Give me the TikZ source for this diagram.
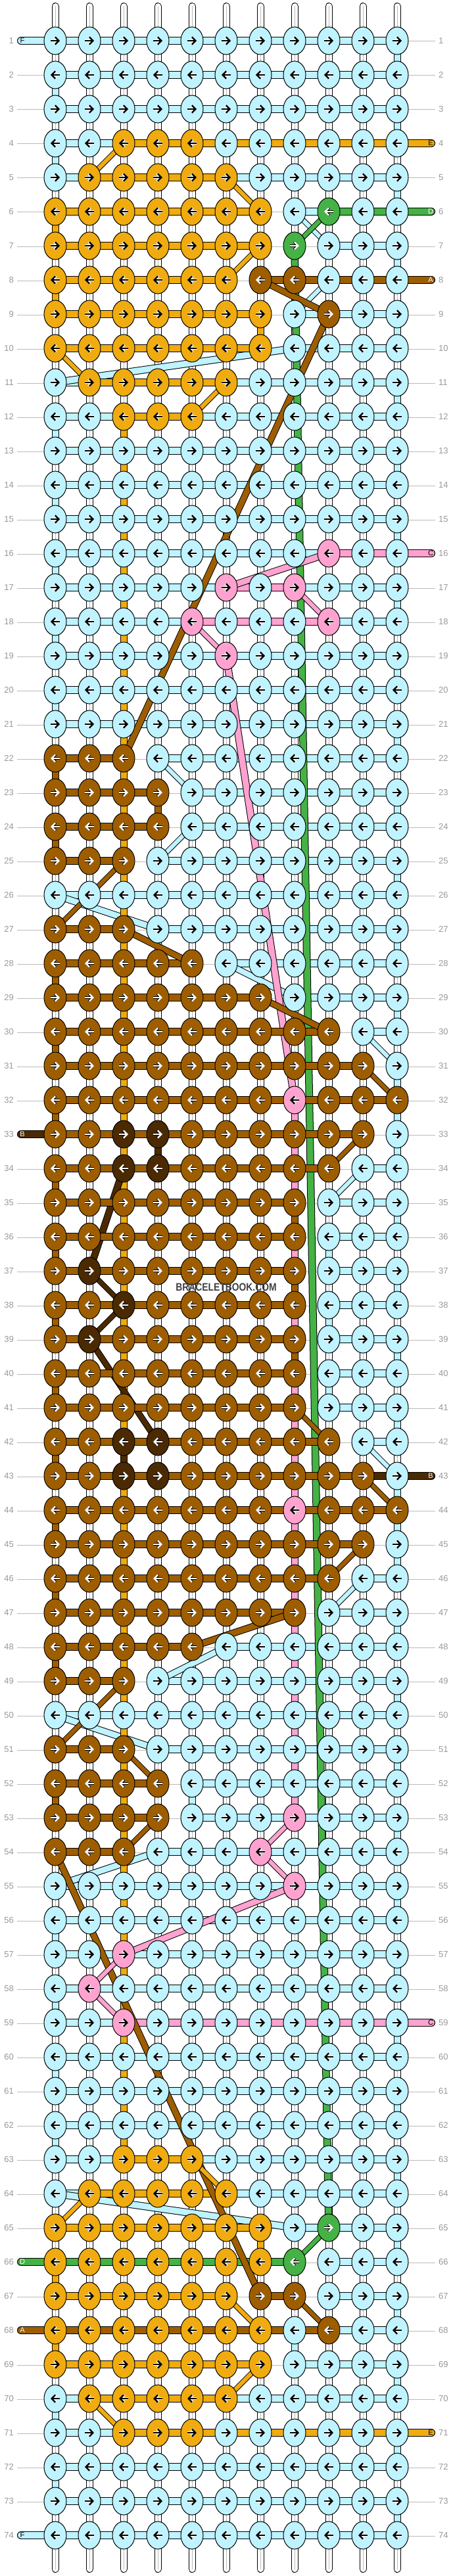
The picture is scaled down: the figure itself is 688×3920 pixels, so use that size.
\documentclass[tikz,border=0pt]{standalone}
\usepackage{fontspec}
\setmainfont{Liberation Sans}
\usetikzlibrary{shapes.geometric}
\usetikzlibrary{arrows.meta}

\definecolor{stb}{HTML}{BEF3FF}
\definecolor{ste}{HTML}{EFAB0F}
\definecolor{stg}{HTML}{45B245}
\definecolor{stp}{HTML}{FFA2D0}
\definecolor{std}{HTML}{4B2A01}
\definecolor{sta}{HTML}{9E5E00}
\definecolor{numgray}{HTML}{999999}
\definecolor{linegray}{HTML}{BBBBBB}

\pgfdeclarelayer{guide}
\pgfdeclarelayer{warp}
\pgfdeclarelayer{segb}
\pgfdeclarelayer{diagb}
\pgfdeclarelayer{gaps}
\pgfdeclarelayer{long}
\pgfdeclarelayer{segc}
\pgfdeclarelayer{diagc}
\pgfsetlayers{guide,warp,segb,diagb,gaps,long,segc,diagc,main}

\tikzset{
  >={Straight Barb[length=5.5pt,width=11.5pt]},
  knot/.style={ellipse,draw=black,line width=1pt,inner sep=0pt,minimum width=34pt,minimum height=42pt},
  knotb/.style={knot,fill=stb}, knote/.style={knot,fill=ste}, knotg/.style={knot,fill=stg},
  knotp/.style={knot,fill=stp}, knotd/.style={knot,fill=std}, knota/.style={knot,fill=sta},
  blackarr/.style={black,line width=2.4pt,preaction={draw=white,line width=3.8pt}},
  whitearr/.style={white,line width=2.4pt,preaction={draw=black,line width=3.4pt}},
  arrb/.style={blackarr}, arre/.style={blackarr}, arrp/.style={blackarr},
  arrg/.style={whitearr}, arrd/.style={whitearr}, arra/.style={whitearr},
  dir1/.style={->}, dir0/.style={<-},
  strand/.style={draw=black,line width=1pt,double distance=#1},
  strand/.default=10pt,
  segb/.style={strand,double=stb}, sege/.style={strand,double=ste}, segg/.style={strand,double=stg},
  segp/.style={strand,double=stp}, segd/.style={strand,double=std}, sega/.style={strand,double=sta},
  segn/.style={draw=none},
  % first pass draws only the blue links, second pass all the others
  lowb/.style={segb}, lowe/.style={draw=none}, lowg/.style={draw=none},
  lowp/.style={draw=none}, lowd/.style={draw=none}, lowa/.style={draw=none}, lown/.style={draw=none},
  highb/.style={draw=none}, highe/.style={sege}, highg/.style={segg},
  highp/.style={segp}, highd/.style={segd}, higha/.style={sega}, highn/.style={draw=none},
  gapline/.style={strand=9pt},
  warp/.style={strand=9pt,double=white,line cap=round},
  warpmid/.style={linegray,line width=1pt},
  guide/.style={linegray,line width=1pt},
  num/.style={numgray,inner sep=0pt,font=\fontsize{13}{13}\selectfont},
  tailtext/.style={inner sep=0pt,font=\fontsize{11}{11}\selectfont},
}

% one slanted strand behind the knots, thinner the nearer it is to 45 degrees
\newcommand{\slant}[5]{%
  \pgfmathsetmacro{\dxx}{abs(#2-#4)}
  \pgfmathsetmacro{\dyy}{abs(#3-#5)}
  \pgfmathsetmacro{\wid}{11.5*max(\dxx,\dyy)/veclen(\dxx,\dyy)-2}
  \draw [strand=\wid pt,double=st#1] (n-#3-#2.center) to (n-#5-#4.center);
}

% rows: knots / links between them
\newcommand{\rowtable}{%
    1/{b,b,b,b,b,b,b,b,b,b,b}/{b,b,b,b,b,b,b,b,b,b},
    2/{b,b,b,b,b,b,b,b,b,b,b}/{b,b,b,b,b,b,b,b,b,b},
    3/{b,b,b,b,b,b,b,b,b,b,b}/{b,b,b,b,b,b,b,b,b,b},
    4/{b,b,e,e,e,b,b,b,b,b,b}/{b,b,e,e,e,e,e,e,e,e},
    5/{b,e,e,e,e,e,b,b,b,b,b}/{b,e,e,e,e,b,b,b,b,b},
    6/{e,e,e,e,e,e,e,b,g,b,b}/{e,e,e,e,e,e,n,b,g,g},
    7/{e,e,e,e,e,e,e,g,b,b,b}/{e,e,e,e,e,e,n,n,b,b},
    8/{e,e,e,e,e,e,a,a,b,b,b}/{e,e,e,e,e,n,a,a,a,a},
    9/{e,e,e,e,e,e,e,b,a,b,b}/{e,e,e,e,e,e,n,b,b,b},
    10/{e,e,e,e,e,e,e,b,b,b,b}/{e,e,e,e,e,e,n,b,b,b},
    11/{b,e,e,e,e,e,b,b,b,b,b}/{b,e,e,e,e,b,b,b,b,b},
    12/{b,b,e,e,e,b,b,b,b,b,b}/{b,b,e,e,b,b,b,b,b,b},
    13/{b,b,b,b,b,b,b,b,b,b,b}/{b,b,b,b,b,b,b,b,b,b},
    14/{b,b,b,b,b,b,b,b,b,b,b}/{b,b,b,b,b,b,b,b,b,b},
    15/{b,b,b,b,b,b,b,b,b,b,b}/{b,b,b,b,b,b,b,b,b,b},
    16/{b,b,b,b,b,b,b,b,p,b,b}/{b,b,b,b,b,b,b,b,p,p},
    17/{b,b,b,b,b,p,b,p,b,b,b}/{b,b,b,b,b,p,p,b,b,b},
    18/{b,b,b,b,p,b,b,b,p,b,b}/{b,b,b,b,p,p,p,p,b,b},
    19/{b,b,b,b,b,p,b,b,b,b,b}/{b,b,b,b,b,b,b,b,b,b},
    20/{b,b,b,b,b,b,b,b,b,b,b}/{b,b,b,b,b,b,b,b,b,b},
    21/{b,b,b,b,b,b,b,b,b,b,b}/{b,b,b,b,b,b,b,b,b,b},
    22/{a,a,a,b,b,b,b,b,b,b,b}/{a,a,n,b,b,b,b,b,b,b},
    23/{a,a,a,a,b,b,b,b,b,b,b}/{a,a,a,n,b,b,b,b,b,b},
    24/{a,a,a,a,b,b,b,b,b,b,b}/{a,a,a,n,b,b,b,b,b,b},
    25/{a,a,a,b,b,b,b,b,b,b,b}/{a,a,n,b,b,b,b,b,b,b},
    26/{b,b,b,b,b,b,b,b,b,b,b}/{b,b,b,b,b,b,b,b,b,b},
    27/{a,a,a,b,b,b,b,b,b,b,b}/{a,a,n,b,b,b,b,b,b,b},
    28/{a,a,a,a,a,b,b,b,b,b,b}/{a,a,a,a,n,b,b,b,b,b},
    29/{a,a,a,a,a,a,a,b,b,b,b}/{a,a,a,a,a,a,n,b,b,b},
    30/{a,a,a,a,a,a,a,a,a,b,b}/{a,a,a,a,a,a,a,a,n,b},
    31/{a,a,a,a,a,a,a,a,a,a,b}/{a,a,a,a,a,a,a,a,a,n},
    32/{a,a,a,a,a,a,a,p,a,a,a}/{a,a,a,a,a,a,a,a,a,a},
    33/{a,a,d,d,a,a,a,a,a,a,b}/{a,a,a,a,a,a,a,a,a,n},
    34/{a,a,d,d,a,a,a,a,a,b,b}/{a,a,a,a,a,a,a,a,n,b},
    35/{a,a,a,a,a,a,a,a,b,b,b}/{a,a,a,a,a,a,a,n,b,b},
    36/{a,a,a,a,a,a,a,a,b,b,b}/{a,a,a,a,a,a,a,n,b,b},
    37/{a,d,a,a,a,a,a,a,b,b,b}/{a,a,a,a,a,a,a,n,b,b},
    38/{a,a,d,a,a,a,a,a,b,b,b}/{a,a,a,a,a,a,a,n,b,b},
    39/{a,d,a,a,a,a,a,a,b,b,b}/{a,a,a,a,a,a,a,n,b,b},
    40/{a,a,a,a,a,a,a,a,b,b,b}/{a,a,a,a,a,a,a,n,b,b},
    41/{a,a,a,a,a,a,a,a,b,b,b}/{a,a,a,a,a,a,a,n,b,b},
    42/{a,a,d,d,a,a,a,a,a,b,b}/{a,a,a,a,a,a,a,a,n,b},
    43/{a,a,d,d,a,a,a,a,a,a,b}/{a,a,a,a,a,a,a,a,a,d},
    44/{a,a,a,a,a,a,a,p,a,a,a}/{a,a,a,a,a,a,a,a,a,a},
    45/{a,a,a,a,a,a,a,a,a,a,b}/{a,a,a,a,a,a,a,a,a,n},
    46/{a,a,a,a,a,a,a,a,a,b,b}/{a,a,a,a,a,a,a,a,n,b},
    47/{a,a,a,a,a,a,a,a,b,b,b}/{a,a,a,a,a,a,a,n,b,b},
    48/{a,a,a,a,a,b,b,b,b,b,b}/{a,a,a,a,n,b,b,b,b,b},
    49/{a,a,a,b,b,b,b,b,b,b,b}/{a,a,n,b,b,b,b,b,b,b},
    50/{b,b,b,b,b,b,b,b,b,b,b}/{b,b,b,b,b,b,b,b,b,b},
    51/{a,a,a,b,b,b,b,b,b,b,b}/{a,a,n,b,b,b,b,b,b,b},
    52/{a,a,a,a,b,b,b,b,b,b,b}/{a,a,a,n,b,b,b,b,b,b},
    53/{a,a,a,a,b,b,b,p,b,b,b}/{a,a,a,n,b,b,b,b,b,b},
    54/{a,a,a,b,b,b,p,b,b,b,b}/{a,a,n,b,b,b,b,b,b,b},
    55/{b,b,b,b,b,b,b,p,b,b,b}/{b,b,b,b,b,b,b,b,b,b},
    56/{b,b,b,b,b,b,b,b,b,b,b}/{b,b,b,b,b,b,b,b,b,b},
    57/{b,b,p,b,b,b,b,b,b,b,b}/{b,b,b,b,b,b,b,b,b,b},
    58/{b,p,b,b,b,b,b,b,b,b,b}/{b,b,b,b,b,b,b,b,b,b},
    59/{b,b,p,b,b,b,b,b,b,b,b}/{b,b,p,p,p,p,p,p,p,p},
    60/{b,b,b,b,b,b,b,b,b,b,b}/{b,b,b,b,b,b,b,b,b,b},
    61/{b,b,b,b,b,b,b,b,b,b,b}/{b,b,b,b,b,b,b,b,b,b},
    62/{b,b,b,b,b,b,b,b,b,b,b}/{b,b,b,b,b,b,b,b,b,b},
    63/{b,b,e,e,e,b,b,b,b,b,b}/{b,b,e,e,b,b,b,b,b,b},
    64/{b,e,e,e,e,e,b,b,b,b,b}/{b,e,e,e,e,b,b,b,b,b},
    65/{e,e,e,e,e,e,e,b,g,b,b}/{e,e,e,e,e,e,n,b,b,b},
    66/{e,e,e,e,e,e,e,g,b,b,b}/{g,g,g,g,g,g,g,n,b,b},
    67/{e,e,e,e,e,e,a,a,b,b,b}/{e,e,e,e,e,n,a,n,b,b},
    68/{e,e,e,e,e,e,e,b,a,b,b}/{a,a,a,a,a,a,a,a,b,b},
    69/{e,e,e,e,e,e,e,b,b,b,b}/{e,e,e,e,e,e,n,b,b,b},
    70/{b,e,e,e,e,e,b,b,b,b,b}/{b,e,e,e,e,b,b,b,b,b},
    71/{b,b,e,e,e,b,b,b,b,b,b}/{b,b,e,e,e,e,e,e,e,e},
    72/{b,b,b,b,b,b,b,b,b,b,b}/{b,b,b,b,b,b,b,b,b,b},
    73/{b,b,b,b,b,b,b,b,b,b,b}/{b,b,b,b,b,b,b,b,b,b},
    74/{b,b,b,b,b,b,b,b,b,b,b}/{b,b,b,b,b,b,b,b,b,b}%
}

\begin{document}
\begin{tikzpicture}[x=1pt,y=-1pt]
  \begin{pgfonlayer}{guide}
    \path [use as bounding box,fill=white] (0,0) rectangle (688,3920);
    \foreach \ro in {1,...,74} {
      \coordinate (gl-\ro) at (26,{11+52*\ro});
      \coordinate (gr-\ro) at (662,{11+52*\ro});
      \draw [guide] (gl-\ro) to (gr-\ro);
    }
  \end{pgfonlayer}

  % white warps
  \begin{pgfonlayer}{warp}
    \foreach \co in {1,...,11} {
      \coordinate (wt-\co) at ({32+52*\co},9.5);
      \coordinate (wb-\co) at ({32+52*\co},3909.5);
      \draw [warp] (wt-\co) to (wb-\co);
      \draw [warpmid] (wt-\co) to (wb-\co);
    }
  \end{pgfonlayer}

  \foreach \ro/\knots/\segs in \rowtable {
    \pgfmathtruncatemacro{\odd}{mod(\ro,2)}
    \foreach \ki [count=\co] in \knots {
      \node (n-\ro-\co) at ({32+52*\co},{10+52*\ro}) [knot\ki] {};
      \draw [arr\ki,dir\odd] ([xshift=-7pt]n-\ro-\co.center) to ([xshift=7pt]n-\ro-\co.center);
    }
    \node (ll-\ro) at (21,{10+52*\ro}) [num,anchor=east] {\ro};
    \node (lr-\ro) at (667,{10+52*\ro}) [num,anchor=west] {\ro};
  }

  \begin{pgfonlayer}{segb}
    \foreach \ro/\knots/\segs in \rowtable {
      \foreach \ki [count=\co] in \segs {
        \pgfmathtruncatemacro{\cn}{\co+1}
        \draw [low\ki] (n-\ro-\co.center) to (n-\ro-\cn.center);
      }
    }
  \end{pgfonlayer}
  \begin{pgfonlayer}{segc}
    \foreach \ro/\knots/\segs in \rowtable {
      \foreach \ki [count=\co] in \segs {
        \pgfmathtruncatemacro{\cn}{\co+1}
        \draw [high\ki] (n-\ro-\co.center) to (n-\ro-\cn.center);
      }
    }
    % loose ends
    \foreach \ki/\ro/\tx/\tcol in {b/1/F/black, d/33/B/white, g/66/D/white, a/68/A/white, b/74/F/black} {
      \coordinate (tl-\ro) at (32,{10+52*\ro});
      \draw [seg\ki,line cap=round] (tl-\ro) to (n-\ro-1.center);
    }
    \foreach \ki/\ro/\tx/\tcol in {e/4/E/black, g/6/D/white, a/8/A/white, p/16/C/black, d/43/B/white, p/59/C/black, e/71/E/black} {
      \coordinate (tr-\ro) at (656,{10+52*\ro});
      \draw [seg\ki,line cap=round] (n-\ro-11.center) to (tr-\ro);
    }
  \end{pgfonlayer}

  % letters on the loose ends
  \foreach \ro/\tx/\tcol in {1/F/black, 33/B/white, 66/D/white, 68/A/white, 74/F/black}
    \node (txl-\ro) at (34,{10+52*\ro}) [tailtext,text=\tcol] {\tx};
  \foreach \ro/\tx/\tcol in {4/E/black, 6/D/white, 8/A/white, 16/C/black, 43/B/white, 59/C/black, 71/E/black}
    \node (txr-\ro) at (655,{10+52*\ro}) [tailtext,text=\tcol] {\tx};

  % links between rows
  \begin{pgfonlayer}{gaps}
    \foreach \ki/\co/\rows in {
      b/11/{1,3,...,73}, b/1/{2,4,12,14,16,18,20,56,58,60,62,70,72},
      b/11/{32,44}, b/9/{36,38,40}, b/5/{52}, b/8/{8,68},
      a/1/{22,24,28,30,...,48,52}, a/4/{23}, a/8/{35,37,39},
      e/1/{6,8,66,68}, e/7/{9,65}, e/3/{12,13,...,41,43,44,...,62},
      d/3/{42}, d/4/{33}, g/9/{64},
      p/8/{32,33,34,36,38,40,41,...,52}%
    } {
      \foreach \ro in \rows {
        \pgfmathtruncatemacro{\rn}{\ro+1}
        \draw [gapline,double=st\ki] (n-\ro-\co.center) to (n-\rn-\co.center);
      }
    }
  \end{pgfonlayer}

  % slanted strands: colour, column, row, column, row
  \begin{pgfonlayer}{diagb}
    \foreach \ki/\ca/\ra/\cb/\rb in {
      b/8/6/9/7, b/8/9/9/8, b/1/11/8/10, b/4/22/5/23, b/4/25/5/24, b/1/26/4/27,
      b/6/28/8/29, b/10/30/11/31, b/9/35/10/34, b/10/42/11/43, b/9/47/10/46,
      b/4/49/6/48, b/1/50/4/51, b/1/55/4/54, b/1/64/8/65%
    } { \slant{\ki}{\ca}{\ra}{\cb}{\rb} }
  \end{pgfonlayer}
  \begin{pgfonlayer}{long}
    \foreach \ki/\ca/\ra/\cb/\rb in {
      g/8/7/9/65, p/6/19/8/32, d/2/37/3/34, d/2/37/3/38, d/2/39/3/38, d/2/39/4/42%
    } { \slant{\ki}{\ca}{\ra}{\cb}{\rb} }
  \end{pgfonlayer}
  \begin{pgfonlayer}{diagc}
    \foreach \ki/\ca/\ra/\cb/\rb in {
      e/2/5/3/4, e/6/5/7/6, e/6/8/7/7, g/8/7/9/6, a/7/8/9/9, a/9/9/3/22,
      e/1/10/2/11, e/5/12/6/11, p/6/17/9/16, p/8/17/9/18, p/5/18/6/19,
      a/1/27/3/25, a/3/27/5/28, a/7/29/9/30, a/10/31/11/32, a/9/34/10/33,
      a/8/41/9/42, a/10/43/11/44, a/9/46/10/45, a/5/48/8/47, a/3/49/1/51,
      a/3/51/4/52, a/3/54/4/53, a/1/54/7/67, p/7/54/8/53, p/7/54/8/55,
      p/8/55/3/57, p/2/58/3/57, p/2/58/3/59, e/5/63/6/64, e/1/65/2/64,
      g/8/66/9/65, a/8/67/9/68, e/6/67/7/68, e/6/70/7/69, e/2/70/3/71%
    } { \slant{\ki}{\ca}{\ra}{\cb}{\rb} }
  \end{pgfonlayer}

  \node (brand) at (344,1959) [inner sep=0pt,text=black!75,xscale=0.84,transform shape,
    font=\fontsize{16.5}{17}\selectfont\bfseries] {BRACELETBOOK.COM};
\end{tikzpicture}
\end{document}
